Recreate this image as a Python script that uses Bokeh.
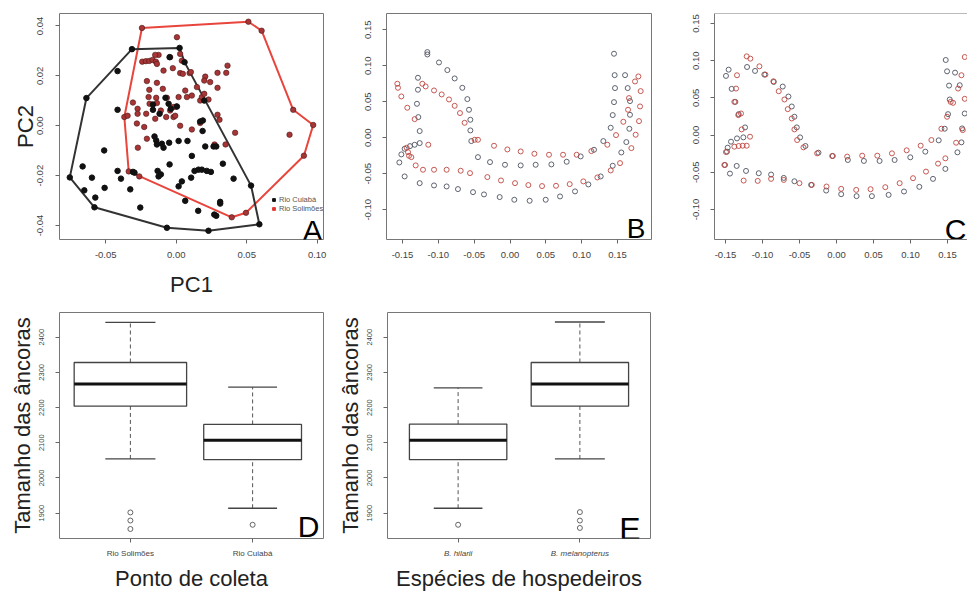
import numpy as np
from bokeh.plotting import figure
from bokeh.layouts import row, column
from bokeh.models import (Range1d, FixedTicker, NumeralTickFormatter, Legend,
                          LegendItem, Span)
from bokeh.core.properties import value
from bokeh.embed import file_html
from bokeh.resources import INLINE

FONT = "Liberation Sans"

# ---------------- Panel A : PCA scores (first 10 points of each = outline, in order)
cuiaba_points = [
    (-0.0755, -0.0207), (-0.0637, 0.0111), (-0.0314, 0.0307), (0.0024, 0.0312),
    (0.0059, 0.0255), (0.0531, -0.0240), (0.0590, -0.0395), (0.0229, -0.0421),
    (-0.0066, -0.0409), (-0.0580, -0.0327),
    (-0.0416, 0.0219), (-0.0416, 0.0064), (-0.0511, -0.0099), (-0.0664, -0.0163),
    (-0.0652, -0.0259), (-0.0598, -0.0208), (-0.0574, -0.0288), (-0.0508, -0.0249),
    (-0.0416, -0.0181), (-0.0392, -0.0212), (-0.0326, -0.0255), (-0.0307, -0.0185),
    (-0.0296, -0.0188), (-0.0154, -0.0043), (-0.0142, -0.0059), (-0.0137, -0.0075),
    (-0.0102, -0.0072), (-0.0132, -0.0181), (-0.0125, -0.0203), (-0.0109, -0.0195),
    (-0.0047, -0.0155), (-0.0090, -0.0088), (-0.0118, 0.0048), (-0.0165, 0.0085),
    (-0.0165, 0.0064), (-0.0076, 0.0112), (-0.0054, 0.0088), (-0.0038, 0.0068),
    (0.0005, 0.0077), (-0.0047, 0.0275), (0.0170, 0.0017), (0.0189, 0.0021),
    (0.0206, -0.0083), (0.0265, -0.0083), (0.0284, -0.0083), (0.0199, 0.0101),
    (0.0111, -0.0121), (0.0130, -0.0181), (0.0158, -0.0176), (0.0182, -0.0176),
    (0.0217, -0.0181), (0.0246, -0.0185), (0.0407, -0.0212), (0.0106, -0.0208),
    (0.0040, -0.0223), (0.0017, -0.0243), (0.0064, -0.0301), (0.0156, -0.0341),
    (0.0270, -0.0356), (0.0284, -0.0361), (0.0312, -0.0305), (0.0312, -0.0312),
    (-0.0255, -0.0328), (0.0331, -0.0152), (0.0187, -0.0021), (-0.0050, -0.0068),
    (0.0017, -0.0061), (0.0080, -0.0061),
]
solimoes_points = [
    (-0.0243, 0.0392), (0.0512, 0.0417), (0.0606, 0.0381), (0.0830, 0.0064),
    (0.0972, 0.0003), (0.0906, -0.0120), (0.0495, -0.0349), (0.0394, -0.0367),
    (-0.0337, -0.0183), (-0.0368, 0.0035),
    (0.0005, 0.0355), (-0.0241, 0.0257), (-0.0215, 0.0259), (-0.0191, 0.0260),
    (-0.0168, 0.0264), (-0.0144, 0.0257), (-0.0125, 0.0284), (-0.0149, 0.0284),
    (-0.0137, 0.0248), (-0.0090, 0.0221), (-0.0043, 0.0275), (-0.0024, 0.0231),
    (0.0028, 0.0288), (0.0040, 0.0261), (0.0028, 0.0211), (0.0047, 0.0208),
    (0.0095, 0.0211), (0.0104, 0.0215), (0.0206, 0.0197), (0.0241, 0.0175),
    (0.0199, 0.0181), (0.0293, 0.0212), (0.0355, 0.0212), (0.0364, 0.0241),
    (-0.0208, 0.0179), (-0.0137, 0.0172), (-0.0095, 0.0148), (-0.0066, 0.0112),
    (-0.0142, 0.0112), (-0.0196, 0.0115), (-0.0191, 0.0144), (-0.0189, 0.0088),
    (-0.0137, 0.0091), (-0.0109, 0.0061), (-0.0043, 0.0061), (-0.0019, 0.0035),
    (0.0000, 0.0077), (0.0017, 0.0115), (0.0064, 0.0141), (0.0076, 0.0115),
    (0.0111, 0.0121), (0.0147, 0.0155), (0.0170, 0.0101), (0.0182, 0.0115),
    (0.0199, 0.0128), (0.0229, 0.0105), (0.0293, 0.0152), (-0.0307, 0.0093),
    (-0.0274, 0.0068), (-0.0345, 0.0040), (-0.0274, 0.0048), (-0.0213, 0.0048),
    (-0.0149, 0.0028), (-0.0071, 0.0035), (0.0028, 0.0000), (0.0111, -0.0015),
    (0.0170, 0.0011), (0.0293, 0.0044), (0.0307, 0.0024), (-0.0208, -0.0052),
    (-0.0272, -0.0088), (-0.0227, -0.0005), (-0.0279, 0.0009), (0.0418, -0.0028),
    (0.0804, -0.0036), (0.0272, -0.0075), (0.0350, -0.0075), (-0.0019, 0.0075),
    (-0.0007, 0.0040), (-0.0262, -0.0203),
]
N_OUTLINE = 10
groups_A = ["Rio Cuiabá", "Rio Solimões"]
a_xticks = [-0.05, 0.00, 0.05, 0.10]
a_yticks = [-0.04, -0.02, 0.00, 0.02, 0.04]

# ---------------- Panel B : landmark configurations
b_black = [
    (-0.1153, 0.1190), (-0.1153, 0.1157), (-0.0991, 0.1046), (-0.0874, 0.0940),
    (-0.0772, 0.0824), (-0.0665, 0.0694), (-0.0595, 0.0537), (-0.0572, 0.0389),
    (-0.0553, 0.0250), (-0.0553, 0.0102), (-0.0540, -0.0046),
    (-0.1284, 0.0833), (-0.1284, 0.0667), (-0.1298, 0.0472), (-0.1279, 0.0287),
    (-0.1260, 0.0093), (-0.1260, -0.0074), (-0.1330, -0.0097), (-0.1395, -0.0116),
    (-0.1470, -0.0153), (-0.1516, -0.0231), (-0.1544, -0.0343), (-0.1470, -0.0537),
    (-0.1260, -0.0630), (-0.1060, -0.0662), (-0.0884, -0.0676), (-0.0726, -0.0713),
    (-0.0516, -0.0755), (-0.0363, -0.0787), (-0.0144, -0.0824), (0.0060, -0.0861),
    (0.0274, -0.0875), (0.0498, -0.0861), (0.0698, -0.0815), (0.0907, -0.0745),
    (0.1093, -0.0648), (0.1265, -0.0537), (0.1433, -0.0389), (0.1553, -0.0204),
    (0.1623, -0.0060),
    (-0.0447, -0.0269), (-0.0279, -0.0338), (-0.0070, -0.0375), (0.0149, -0.0384),
    (0.0358, -0.0375), (0.0577, -0.0370), (0.0791, -0.0333), (0.0986, -0.0259),
    (0.1172, -0.0167), (0.1302, -0.0046),
    (0.1405, 0.0139), (0.1433, 0.0315), (0.1451, 0.0495), (0.1465, 0.0690),
    (0.1460, 0.0870), (0.1451, 0.1167), (0.1605, 0.0870), (0.1642, 0.0690),
    (0.1674, 0.0509), (0.1674, 0.0319), (0.1665, 0.0125),
]
b_red = [
    (-0.1572, 0.0750), (-0.1563, 0.0694), (-0.1516, 0.0574), (-0.1433, 0.0417),
    (-0.1330, 0.0259), (-0.1442, -0.0139), (-0.1423, -0.0199), (-0.1409, -0.0250),
    (-0.1377, -0.0269),
    (-0.1223, 0.0750), (-0.1177, 0.0713), (-0.1060, 0.0657), (-0.0953, 0.0602),
    (-0.0851, 0.0532), (-0.0772, 0.0444), (-0.0698, 0.0343), (-0.0633, 0.0208),
    (-0.0493, -0.0028), (-0.0447, -0.0028), (-0.1140, -0.0097),
    (-0.1316, -0.0384), (-0.1214, -0.0444), (-0.1060, -0.0444), (-0.0884, -0.0444),
    (-0.0688, -0.0458), (-0.0558, -0.0491), (-0.0316, -0.0546), (-0.0126, -0.0593),
    (0.0070, -0.0630), (0.0256, -0.0657), (0.0447, -0.0671), (0.0642, -0.0667),
    (0.0833, -0.0644), (0.1023, -0.0606), (0.1219, -0.0551), (0.1405, -0.0454),
    (0.1535, -0.0352),
    (-0.0223, -0.0111), (-0.0037, -0.0162), (0.0149, -0.0190), (0.0340, -0.0222),
    (0.0544, -0.0236), (0.0740, -0.0236), (0.0930, -0.0236), (0.1135, -0.0185),
    (0.1358, -0.0097),
    (0.1479, 0.0037), (0.1581, 0.0222), (0.1647, 0.0389), (0.1660, 0.0551),
    (0.1744, 0.0782), (0.1791, 0.0852), (0.1823, 0.0648), (0.1814, 0.0435),
    (0.1800, 0.0231), (0.1753, 0.0042), (0.1693, -0.0144),
]

# ---------------- Panel C : landmark configurations
c_black = [
    (-0.1494, 0.0795), (-0.1458, 0.0879), (-0.1417, 0.0621), (-0.1367, 0.0446),
    (-0.1322, 0.0281), (-0.1236, 0.0103), (-0.1259, -0.0031), (-0.1345, -0.0045),
    (-0.1426, -0.0089), (-0.1471, -0.0170), (-0.1480, -0.0223), (-0.1507, -0.0402),
    (-0.1440, -0.0518), (-0.1349, -0.0415), (-0.1223, -0.0482), (-0.1051, -0.0513),
    (-0.0884, -0.0531), (-0.0713, -0.0576), (-0.0569, -0.0621), (-0.0343, -0.0670),
    (-0.0140, -0.0746), (0.0063, -0.0795), (0.0271, -0.0821), (0.0478, -0.0821),
    (0.0704, -0.0804), (0.0912, -0.0759), (0.1119, -0.0696), (0.1304, -0.0589),
    (0.1471, -0.0455),
    (-0.1209, 0.0915), (-0.1101, 0.0862), (-0.0975, 0.0813), (-0.0848, 0.0714),
    (-0.0727, 0.0652), (-0.0650, 0.0518), (-0.0605, 0.0384), (-0.0569, 0.0246),
    (-0.0537, 0.0103), (-0.0492, -0.0031), (-0.0420, -0.0147), (-0.0244, -0.0237),
    (-0.0050, -0.0281), (0.0153, -0.0335), (0.0370, -0.0348), (0.0582, -0.0348),
    (0.0785, -0.0335), (0.0997, -0.0299), (0.1200, -0.0223), (0.1381, -0.0071),
    (0.1476, 0.1009), (0.1494, 0.0857), (0.1602, 0.0839), (0.1521, 0.0665),
    (0.1530, 0.0478), (0.1507, 0.0281), (0.1462, 0.0085), (0.1665, 0.0670),
    (0.1733, 0.0290), (0.1697, 0.0089), (0.1634, -0.0232), (0.1688, -0.0098),
]
c_red = [
    (-0.1494, -0.0228), (-0.1381, -0.0156), (-0.1322, -0.0147), (-0.1268, -0.0143),
    (-0.1214, -0.0143), (-0.1169, -0.0022), (-0.1282, 0.0076), (-0.1327, 0.0268),
    (-0.1291, 0.0290), (-0.1381, 0.0446), (-0.1358, 0.0625), (-0.1345, 0.0804),
    (-0.1214, 0.1058), (-0.1164, 0.1027), (-0.1042, 0.0924), (-0.0961, 0.0813),
    (-0.0853, 0.0723), (-0.0781, 0.0589), (-0.0704, 0.0478), (-0.0659, 0.0348),
    (-0.0605, 0.0223), (-0.0569, 0.0076), (-0.0532, -0.0067), (-0.0447, -0.0165),
    (-0.0262, -0.0246), (-0.0059, -0.0281), (0.0144, -0.0290), (0.0347, -0.0277),
    (0.0551, -0.0277), (0.0749, -0.0246), (0.0948, -0.0205), (0.1137, -0.0143),
    (0.1282, -0.0067), (0.1417, 0.0085), (0.1494, 0.0246), (0.1543, 0.0446),
    (0.1575, 0.0433), (0.1643, 0.0625), (0.1688, 0.0804), (0.1733, 0.1049),
    (0.1733, 0.0487), (0.1706, 0.0067), (0.1616, -0.0103), (0.1471, -0.0313),
    (0.1372, -0.0384), (0.1209, -0.0491), (0.1034, -0.0580), (0.0853, -0.0647),
    (0.0659, -0.0701), (0.0460, -0.0728), (0.0266, -0.0737), (0.0063, -0.0723),
    (-0.0135, -0.0692), (-0.0334, -0.0670), (-0.0501, -0.0647), (-0.0713, -0.0603),
    (-0.0884, -0.0589), (-0.1065, -0.0616), (-0.1255, -0.0612), (-0.1516, -0.0402),
]
shape_xticks = [-0.15, -0.10, -0.05, 0.00, 0.05, 0.10, 0.15]
shape_yticks = [-0.10, -0.05, 0.00, 0.05, 0.10, 0.15]

# ---------------- Panel D : anchor size by collection site
d_groups = ["Rio Solimões", "Rio Cuiabá"]
d_low = [2054, 1914]
d_q1 = [2204, 2052]
d_median = [2267, 2107]
d_q3 = [2328, 2152]
d_high = [2442, 2258]
d_box_width = [0.92, 0.80]
d_cap_width = [0.41, 0.40]
d_out_group = [1, 1, 1, 2]
d_out_value = [1902, 1879, 1855, 1867]

# ---------------- Panel E : anchor size by host species
e_groups = ["B. hilarii", "B. melanopterus"]
e_low = [1914, 2054]
e_q1 = [2052, 2204]
e_median = [2107, 2267]
e_q3 = [2153, 2328]
e_high = [2256, 2443]
e_box_width = [0.80, 0.80]
e_cap_width = [0.40, 0.41]
e_out_group = [1, 2, 2, 2]
e_out_value = [1867, 1903, 1879, 1858]

size_ticks = [1900, 2000, 2100, 2200, 2300, 2400]


def xy(points):
    xs, ys = zip(*points)
    return list(xs), list(ys)


def style_axis(ax, size):
    ax.axis_line_color = None
    ax.major_tick_line_color = "#666666"
    ax.major_tick_out = 4
    ax.major_tick_in = 0
    ax.minor_tick_line_color = None
    ax.major_label_text_font = FONT
    ax.major_label_text_color = "#444444"
    ax.major_label_text_font_size = size
    ax.axis_label_text_font = FONT
    ax.axis_label_text_font_style = "normal"
    ax.axis_label_text_color = "#222222"
    ax.axis_label_text_font_size = "22px"


def base(width, height, xr, yr, bl, br, bt, bb, tick_size="9.5px"):
    p = figure(width=width, height=height, x_range=Range1d(*xr), y_range=Range1d(*yr),
               output_backend="svg", toolbar_location=None, tools="",
               min_border_left=bl, min_border_right=br, min_border_top=bt,
               min_border_bottom=bb)
    p.xgrid.visible = False
    p.ygrid.visible = False
    p.outline_line_color = "#777777"
    p.outline_line_width = 1
    p.background_fill_color = "white"
    p.border_fill_color = "white"
    style_axis(p.xaxis[0], tick_size)
    style_axis(p.yaxis[0], tick_size)
    p.yaxis.major_label_orientation = "vertical"
    return p


def letter(p, x, y, txt, xo=0, yo=0, size="30px"):
    p.text(x=[x], y=[y], text=[txt], text_font=value(FONT), text_font_size=size,
           text_color="black", text_align="right", text_baseline="middle",
           x_offset=xo, y_offset=yo)


# ================= Panel A
A_X = (-0.0828, 0.1045)
A_Y = (-0.0456, 0.0450)
pA = base(330, 300, A_X, A_Y, 59, 7, 13, 61)
pA.xaxis.ticker = FixedTicker(ticks=a_xticks)
pA.yaxis.ticker = FixedTicker(ticks=a_yticks)
pA.xaxis.formatter = NumeralTickFormatter(format="0.00")
pA.yaxis.formatter = NumeralTickFormatter(format="0.00")
pA.xaxis.axis_label = "PC1"
pA.yaxis.axis_label = "PC2"
pA.xaxis.major_label_standoff = 8
pA.xaxis.axis_label_standoff = 11
pA.yaxis.major_label_standoff = 12
pA.yaxis.axis_label_standoff = -3

cx, cy = xy(cuiaba_points)
sx, sy = xy(solimoes_points)
pA.line(sx[:N_OUTLINE] + sx[:1], sy[:N_OUTLINE] + sy[:1], line_color="#e8453c", line_width=2)
pA.line(cx[:N_OUTLINE] + cx[:1], cy[:N_OUTLINE] + cy[:1], line_color="#333333", line_width=2)
pA.scatter(sx, sy, marker="circle", size=5.5, fill_color="#a83535", line_color="#4a1515",
           line_width=0.6)
pA.scatter(cx, cy, marker="circle", size=5.5, fill_color="#111111", line_color="#111111")
leg_c = pA.scatter([np.nan], [np.nan], marker="square", size=7, fill_color="#111111",
                   line_color="#111111")
leg_s = pA.scatter([np.nan], [np.nan], marker="square", size=7, fill_color="#e0372f",
                   line_color="#e0372f")
legend = Legend(items=[LegendItem(label=groups_A[0], renderers=[leg_c]),
                       LegendItem(label=groups_A[1], renderers=[leg_s])],
                location=(211, 26), padding=0, margin=0, spacing=0, label_standoff=2,
                glyph_width=7, glyph_height=7, label_height=7,
                label_text_font=FONT, label_text_font_size="7.5px",
                label_text_color="#555555", border_line_color=None,
                background_fill_alpha=0)
pA.add_layout(legend)
letter(pA, A_X[1], A_Y[0], "A", xo=-1, yo=-9)

# ================= Panel B
B_X = (-0.1723, 0.1974)
B_Y = (-0.1413, 0.1726)
pB = base(330, 300, B_X, B_Y, 56, 9, 13, 61)
pB.xaxis.ticker = FixedTicker(ticks=shape_xticks)
pB.yaxis.ticker = FixedTicker(ticks=shape_yticks)
pB.xaxis.formatter = NumeralTickFormatter(format="0.00")
pB.yaxis.formatter = NumeralTickFormatter(format="0.00")
pB.xaxis.major_label_standoff = 8
pB.yaxis.major_label_standoff = 11
bx, by = xy(b_black)
rx, ry = xy(b_red)
pB.scatter(bx, by, marker="circle", size=5, fill_color=None, line_color="#4d5260",
           line_width=0.9)
pB.scatter(rx, ry, marker="circle", size=5, fill_color=None, line_color="#c0463f",
           line_width=0.9)
letter(pB, B_X[1], B_Y[0], "B", xo=-6, yo=-11, size="28px")

# ================= Panel C
C_X = (-0.1649, 0.1770)
C_Y = (-0.1404, 0.1634)
pC = base(307, 300, C_X, C_Y, 54, 0, 13, 61)
pC.outline_line_color = None
pC.xaxis.axis_line_color = "#777777"
pC.yaxis.axis_line_color = "#777777"
pC.add_layout(Span(location=C_Y[1], dimension="width", line_color="#777777", line_width=1))
pC.xaxis.ticker = FixedTicker(ticks=shape_xticks)
pC.yaxis.ticker = FixedTicker(ticks=shape_yticks)
pC.xaxis.formatter = NumeralTickFormatter(format="0.00")
pC.yaxis.formatter = NumeralTickFormatter(format="0.00")
pC.xaxis.major_label_standoff = 8
pC.yaxis.major_label_standoff = 11
kx, ky = xy(c_black)
qx, qy = xy(c_red)
pC.scatter(kx, ky, marker="circle", size=5, fill_color=None, line_color="#4d5260",
           line_width=0.9)
pC.scatter(qx, qy, marker="circle", size=5, fill_color=None, line_color="#c0463f",
           line_width=0.9)
letter(pC, C_X[1], C_Y[0], "C", xo=-1, yo=-10, size="30px")


# ================= Boxplots
def boxplot(p, low, q1, med, q3, high, bw, cw, og, ov):
    pos = np.arange(1, len(low) + 1, dtype=float)
    bw = np.array(bw)
    cw = np.array(cw)
    p.segment(x0=pos, y0=q3, x1=pos, y1=high, line_color="#555555", line_width=1,
              line_dash="4 3")
    p.segment(x0=pos, y0=low, x1=pos, y1=q1, line_color="#555555", line_width=1,
              line_dash="4 3")
    p.segment(x0=pos - cw / 2, y0=high, x1=pos + cw / 2, y1=high, line_color="#444444",
              line_width=1.3)
    p.segment(x0=pos - cw / 2, y0=low, x1=pos + cw / 2, y1=low, line_color="#444444",
              line_width=1.3)
    p.quad(left=pos - bw / 2, right=pos + bw / 2, bottom=q1, top=q3, fill_color=None,
           line_color="#444444", line_width=1.3)
    p.segment(x0=pos - bw / 2, y0=med, x1=pos + bw / 2, y1=med, line_color="#111111",
              line_width=3)
    p.scatter(x=[float(g) for g in og], y=ov, marker="circle", size=5, fill_color=None,
              line_color="#555555", line_width=0.9)


BOX_X = (0.42, 2.58)
BOX_Y = (1828, 2470)


def box_fig(width, bl, br, groups, xlabel, italic=False):
    p = base(width, 293, BOX_X, BOX_Y, bl, br, 12, 52, tick_size="7.5px")
    p.xaxis.ticker = FixedTicker(ticks=[1, 2])
    p.xaxis.major_label_overrides = {i + 1: g for i, g in enumerate(groups)}
    p.xaxis.major_label_text_font_size = "8px"
    if italic:
        p.xaxis.major_label_text_font_style = "italic"
    p.yaxis.ticker = FixedTicker(ticks=size_ticks)
    p.xaxis.axis_label = xlabel
    p.yaxis.axis_label = "Tamanho das âncoras"
    p.xaxis.major_label_standoff = 6
    p.xaxis.axis_label_standoff = 5
    p.yaxis.major_label_standoff = 11
    p.yaxis.axis_label_standoff = 2
    return p


pD = box_fig(330, 59, 7, d_groups, "Ponto de coleta")
boxplot(pD, d_low, d_q1, d_median, d_q3, d_high, d_box_width, d_cap_width,
        d_out_group, d_out_value)
letter(pD, BOX_X[1], BOX_Y[0], "D", xo=-4, yo=-12)

pE = box_fig(330, 57, 10, e_groups, "Espécies de hospedeiros", italic=True)
boxplot(pE, e_low, e_q1, e_median, e_q3, e_high, e_box_width, e_cap_width,
        e_out_group, e_out_value)
letter(pE, BOX_X[1], BOX_Y[0], "E", xo=-10, yo=-10, size="32px")

layout = column(row(pA, pB, pC), row(pD, pE))

with open("out.html", "w") as f:
    f.write(file_html(layout, INLINE))
